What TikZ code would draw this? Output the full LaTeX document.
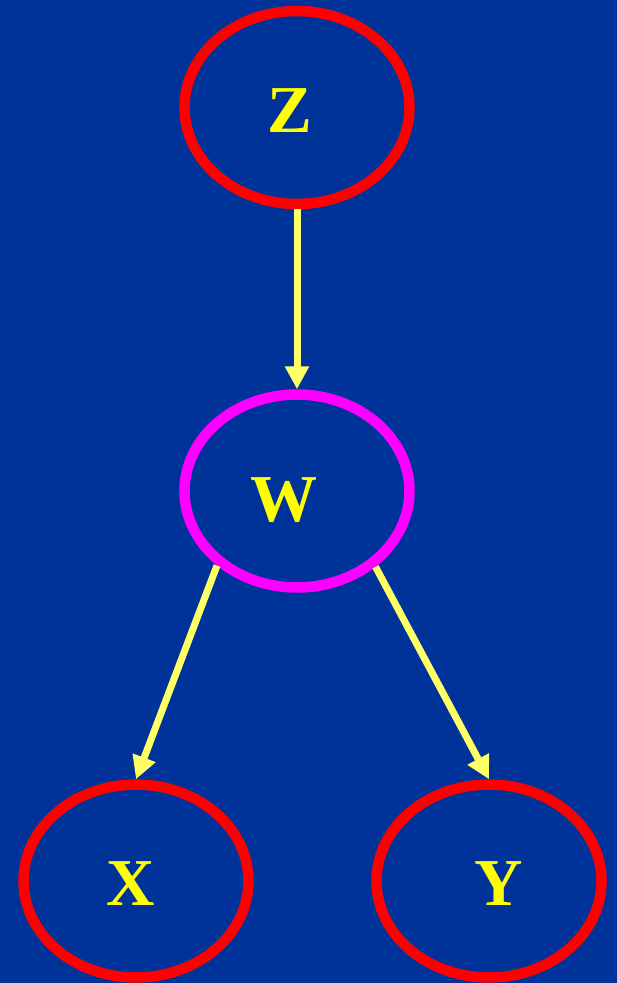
\documentclass[tikz,border=0pt]{standalone}
\usepackage{fontspec}
\setmainfont{Liberation Serif}
\usetikzlibrary{shapes.geometric,arrows.meta}
\definecolor{bg}{HTML}{003399}
\definecolor{ringred}{HTML}{FF0000}
\definecolor{ringmag}{HTML}{FF00FF}
\definecolor{txt}{HTML}{FFFF00}
\definecolor{arr}{HTML}{FFFF66}
\tikzset{
  var/.style={ellipse, draw=ringred, line width=10.5pt, minimum width=225pt, minimum height=193pt, inner sep=0pt},
  lbl/.style={text=txt, font=\fontsize{67}{67}\selectfont\bfseries, inner sep=0pt},
  edge/.style={draw=arr, line width=7pt, -{Triangle[length=23pt,width=23pt]}}
}
\begin{document}
\begin{tikzpicture}[x=1pt,y=-1pt]
\fill[bg] (0,0) rectangle (617,983);
\useasboundingbox (0,0) rectangle (617,983);
\node[var] (Z) at (297,107.5) {};
\node[var, draw=ringmag] (W) at (297,491) {};
\node[var] (X) at (136,881) {};
\node[var] (Y) at (489,881) {};
\node[lbl] (Zt) at (289.5,110.5) {Z};
\node[lbl] (Wt) at (284,500.5) {W};
\node[lbl] (Xt) at (131,884) {X};
\node[lbl] (Yt) at (499,884) {Y};
\draw[edge] (Z.south) -- (W.north);
\draw[edge] (W.223) -- (X.north);
\draw[edge] (W.316) -- (Y.north);
\end{tikzpicture}
\end{document}
